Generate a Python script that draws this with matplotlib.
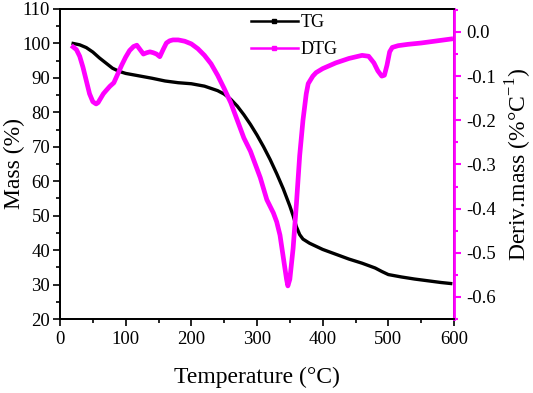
import numpy as np
import matplotlib.pyplot as plt
from matplotlib.lines import Line2D
from matplotlib.ticker import MultipleLocator

plt.rcParams['font.family'] = ['Liberation Serif', 'DejaVu Serif']
plt.rcParams['mathtext.fontset'] = 'custom'
plt.rcParams['mathtext.rm'] = 'Liberation Serif'

# TG curve (mass %, left axis)
tg_temp = [20, 30, 40, 50, 60, 70, 80, 90, 100, 120, 140, 160, 180, 200, 220,
           240, 250, 260, 270, 280, 290, 300, 310, 320, 330, 340, 350, 355,
           360, 365, 370, 380, 400, 420, 440, 460, 480, 490, 500, 520, 540,
           560, 580, 595]
tg_mass = [100, 99.6, 98.8, 97.5, 95.8, 94.3, 92.8, 91.9, 91.3, 90.6, 89.9,
           89.1, 88.6, 88.3, 87.6, 86.3, 85.3, 83.8, 81.8, 79.3, 76.5, 73.4,
           70.0, 66.3, 62.2, 57.8, 52.8, 50.0, 46.8, 44.5, 43.2, 42.0, 40.2,
           38.8, 37.4, 36.2, 34.8, 33.8, 32.9, 32.2, 31.6, 31.1, 30.6, 30.3]

# DTG curve (%/°C, right axis)
dtg_temp = [20, 25, 30, 35, 40, 45, 50, 55, 58, 62, 66, 70, 76, 82, 88, 94,
            100, 106, 112, 117, 122, 127, 132, 137, 142, 147, 152, 157, 162,
            167, 172, 180, 190, 200, 210, 220, 230, 240, 250, 260, 270, 280,
            290, 300, 305, 310, 315, 320, 325, 330, 335, 340, 345, 347, 350,
            355, 360, 365, 370, 375, 378, 385, 390, 400, 420, 440, 460, 470,
            478, 484, 490, 494, 498, 502, 506, 515, 530, 550, 570, 595]
dtg_val = [-0.034, -0.04, -0.055, -0.08, -0.11, -0.14, -0.158, -0.163, -0.16,
           -0.15, -0.14, -0.133, -0.123, -0.115, -0.095, -0.075, -0.057,
           -0.042, -0.033, -0.03, -0.04, -0.05, -0.047, -0.045, -0.047, -0.05,
           -0.056, -0.04, -0.025, -0.02, -0.018, -0.018, -0.021, -0.027,
           -0.038, -0.053, -0.072, -0.098, -0.128, -0.16, -0.2, -0.24, -0.27,
           -0.31, -0.33, -0.355, -0.38, -0.395, -0.41, -0.43, -0.46, -0.51,
           -0.56, -0.575, -0.56, -0.49, -0.39, -0.28, -0.2, -0.14, -0.117,
           -0.1, -0.092, -0.083, -0.07, -0.06, -0.053, -0.055, -0.07, -0.088,
           -0.1, -0.098, -0.075, -0.045, -0.035, -0.031, -0.028, -0.025,
           -0.021, -0.016]

magenta = '#ff00ff'

fig = plt.figure(figsize=(5.33, 3.93), dpi=100)
ax = fig.add_axes([60/533, 1 - 319/393, (454 - 60)/533, (319 - 9)/393])
ax2 = ax.twinx()

ax.plot(tg_temp, tg_mass, color='black', lw=2.4)
ax2.plot(dtg_temp, dtg_val, color=magenta, lw=3.4)

ax.set_xlim(0, 600)
ax.set_ylim(20, 110)
ax2.set_ylim(-0.65, 0.052)

ax.xaxis.set_major_locator(MultipleLocator(100))
ax.xaxis.set_minor_locator(MultipleLocator(50))
ax.yaxis.set_major_locator(MultipleLocator(10))
ax.yaxis.set_minor_locator(MultipleLocator(5))
ax2.yaxis.set_major_locator(MultipleLocator(0.1))
ax2.yaxis.set_minor_locator(MultipleLocator(0.05))
ax2.yaxis.set_major_formatter(plt.FuncFormatter(lambda v, p: '%.1f' % v if abs(v) > 1e-9 else '0.0'))

for a in (ax, ax2):
    for s in a.spines.values():
        s.set_linewidth(1.3)
ax2.spines['right'].set_color(magenta)
ax2.spines['right'].set_linewidth(2)

ax.tick_params(which='both', direction='out', labelsize=13.5, width=1.2, top=False, right=False)
ax.tick_params(axis='y', pad=2)
ax.tick_params(which='major', length=5)
ax.tick_params(which='minor', length=3)
ax2.tick_params(which='both', direction='out', labelsize=13.5, width=1.5, color=magenta, labelcolor='black')
ax2.tick_params(which='major', length=5)
ax2.tick_params(which='minor', length=3)

ax.set_xlabel('Temperature (°C)', fontsize=17, labelpad=14)
ax.set_ylabel('Mass (%)', fontsize=17)
ax.yaxis.set_label_coords(-0.088, 0.5)
ax2.set_ylabel('Deriv.mass (%°C$^{-1}$)', fontsize=17, labelpad=6)

handles = [Line2D([], [], color='black', lw=1.8, marker='s', markersize=3),
           Line2D([], [], color=magenta, lw=1.8, marker='s', markersize=3)]
fig.legend(handles, ['TG', 'DTG'], loc='upper left',
           bbox_to_anchor=(251/533, 1 - 14/393), frameon=False, fontsize=13,
           handlelength=2.6, handletextpad=0.15, labelspacing=0.55,
           borderpad=0, borderaxespad=0)

fig.savefig('out.png', dpi=100)
